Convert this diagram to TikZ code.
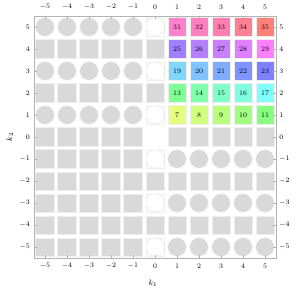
\documentclass[tikz,border=0pt]{standalone}
\definecolor{cellgray}{HTML}{D9D9D9}
\definecolor{celledge}{HTML}{EEEEEE}
\definecolor{axisc}{HTML}{B3B3B3}
\definecolor{c31}{HTML}{FF80CC}
\definecolor{c32}{HTML}{FF80C0}
\definecolor{c33}{HTML}{FF80B0}
\definecolor{c34}{HTML}{FF8094}
\definecolor{c35}{HTML}{FF8078}
\definecolor{c25}{HTML}{A080FF}
\definecolor{c26}{HTML}{B480FF}
\definecolor{c27}{HTML}{C880FF}
\definecolor{c28}{HTML}{E080FF}
\definecolor{c29}{HTML}{FF80FF}
\definecolor{c19}{HTML}{80D8FF}
\definecolor{c20}{HTML}{80C4FF}
\definecolor{c21}{HTML}{80ACFF}
\definecolor{c22}{HTML}{8094FF}
\definecolor{c23}{HTML}{8080FF}
\definecolor{c13}{HTML}{80FF94}
\definecolor{c14}{HTML}{80FFAC}
\definecolor{c15}{HTML}{80FFC8}
\definecolor{c16}{HTML}{80FFE0}
\definecolor{c17}{HTML}{80FFFF}
\definecolor{c7}{HTML}{E4FF80}
\definecolor{c8}{HTML}{D0FF80}
\definecolor{c9}{HTML}{B8FF80}
\definecolor{c10}{HTML}{A0FF80}
\definecolor{c11}{HTML}{88FF80}
\tikzset{
  sqcell/.style={rectangle, minimum size=18.5bp, inner sep=0pt, fill=cellgray, draw=celledge, line width=0.5bp},
  circell/.style={circle, minimum size=18.5bp, inner sep=0pt, fill=cellgray, draw=celledge, line width=0.5bp},
  emptycirc/.style={circle, minimum size=18.5bp, inner sep=0pt, fill=white, draw=cellgray!70, line width=0.4bp},
  colcell/.style={rectangle, minimum size=18.5bp, inner sep=0pt, draw=celledge, line width=0.5bp, font=\fontsize{7}{8}\selectfont},
  ticklab/.style={font=\fontsize{7}{8}\selectfont, inner sep=0pt},
  axlab/.style={font=\fontsize{8.5}{9}\selectfont, inner sep=0pt},
  tickline/.style={draw=axisc, line width=0.5bp}
}
\begin{document}
\begin{tikzpicture}[x=1bp,y=1bp]
\useasboundingbox (0,0) rectangle (298,293);
\fill[white] (0,0) rectangle (298,293);
\begin{scope}[shift={(155,156)}, x=22bp, y=22bp]
% left half
\foreach \i in {-5,...,-1}{
  \foreach \j in {-5,...,5}{
    \ifodd\j
      \ifnum\j>0
        \node[circell] (p\i\j) at (\i,\j) {};
      \else
        \node[sqcell] (p\i\j) at (\i,\j) {};
      \fi
    \else
      \node[sqcell] (p\i\j) at (\i,\j) {};
    \fi
  }
}
% column 0
\foreach \j in {-5,-3,-1,1,3,5}{
  \node[rectangle, minimum size=18.5bp, inner sep=0pt, draw=celledge, line width=0.3bp] (q0\j) at (0,\j) {};
  \node[emptycirc] (z0\j) at (0,\j) {};
}
\foreach \j in {-4,-2,2,4}{
  \node[sqcell] (z0\j) at (0,\j) {};
}
% right half, lower
\foreach \i in {1,...,5}{
  \node[sqcell] (p\i0) at (\i,0) {};
  \foreach \j in {-5,-3,-1}{
    \node[circell] (p\i\j) at (\i,\j) {};
  }
  \foreach \j in {-4,-2}{
    \node[sqcell] (p\i\j) at (\i,\j) {};
  }
  \foreach \j in {1,...,5}{
    \pgfmathtruncatemacro{\n}{6*\j+\i}
    \node[colcell, fill=c\n] (p\i\j) at (\i,\j) {\n};
  }
}
% frame
\draw[tickline] (-5.5,-5.5) rectangle (5.5,5.5);
\foreach \k in {-5,...,5}{
  \draw[tickline] (\k,-5.5) -- (\k,-5.37);
  \draw[tickline] (\k,5.5) -- (\k,5.37);
  \draw[tickline] (-5.5,\k) -- (-5.37,\k);
  \draw[tickline] (5.5,\k) -- (5.37,\k);
  \node[ticklab] (tb\k) at (\k,-5.86) {$\k$};
  \node[ticklab] (tt\k) at (\k,5.91) {$\k$};
  \node[ticklab, anchor=east] (tl\k) at (-5.68,\k) {$\k$};
  \node[ticklab, anchor=west] (tr\k) at (5.64,\k) {$\k$};
}
\node[axlab] (k1) at (-0.09,-6.64) {$k_1$};
\node[axlab, rotate=90] (k2) at (-6.6,0.0) {$k_2$};
\end{scope}
\end{tikzpicture}
\end{document}
